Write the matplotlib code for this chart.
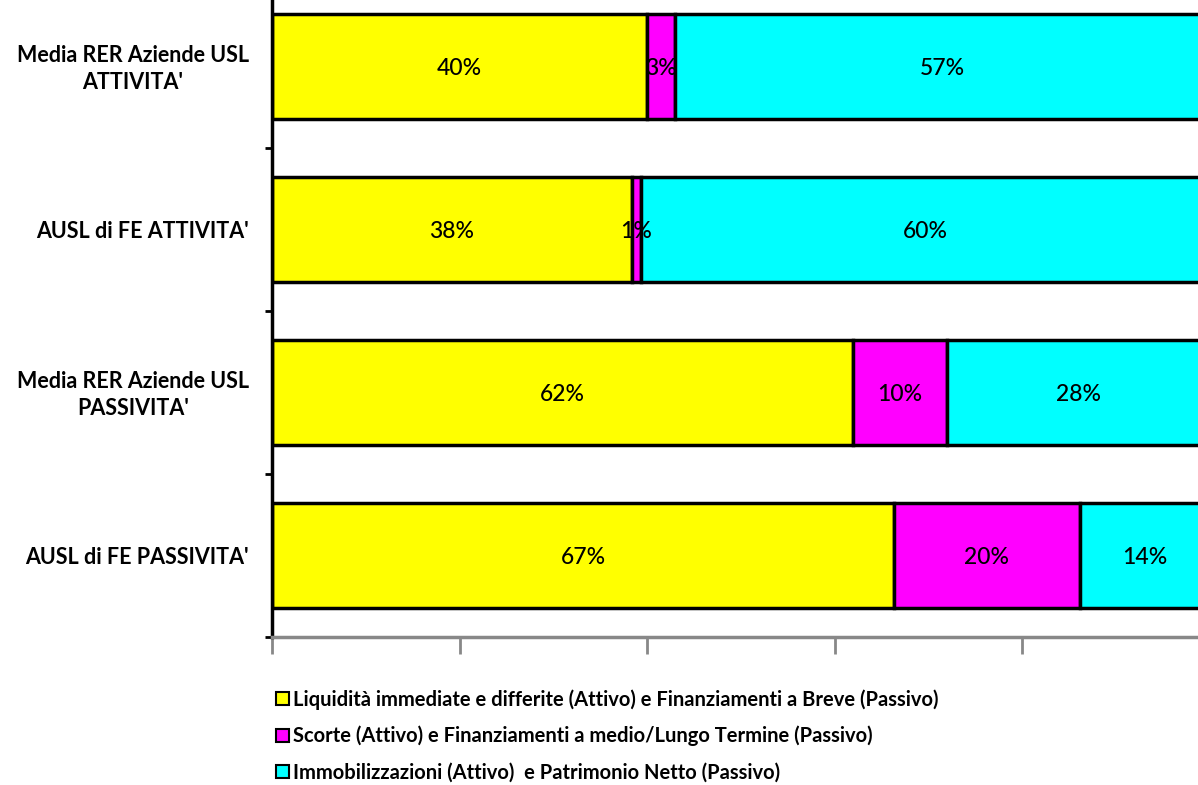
import numpy as np
import matplotlib.pyplot as plt
import matplotlib.transforms as mtransforms
from matplotlib.patches import Patch

# rows from top to bottom, values in percent as typed in the sheet
categories = ["Media RER Aziende USL\nATTIVITA'",
              "AUSL di FE ATTIVITA'",
              "Media RER Aziende USL\nPASSIVITA'",
              "AUSL di FE PASSIVITA'"]
liquidita = [40, 38, 62, 67]
scorte = [3, 1, 10, 20]
immobilizzazioni = [57, 60, 28, 14]

series_names = ["Liquidità immediate e differite (Attivo) e Finanziamenti a Breve (Passivo)",
                "Scorte (Attivo) e Finanziamenti a medio/Lungo Termine (Passivo)",
                "Immobilizzazioni (Attivo)  e Patrimonio Netto (Passivo)"]
colors = ["#FFFF00", "#FF00FF", "#00FFFF"]

plt.rcParams['font.family'] = ['Lato', 'DejaVu Sans']

fig = plt.figure(figsize=(11.98, 7.85), dpi=100)
ax = fig.add_axes([272/1198, 1 - 637/785, 937.5/1198, 652/785])

data = np.array([liquidita, scorte, immobilizzazioni], dtype=float)
totals = data.sum(axis=0)
y = np.arange(len(categories))
left = np.zeros(len(categories))
for vals, col in zip(data, colors):
    frac = vals / totals
    ax.barh(y, frac, left=left, height=0.645, color=col,
            edgecolor='black', linewidth=2.5)
    for yi, l, f, v in zip(y, left, frac, vals):
        ax.text(l + f / 2, yi + 0.01, '%d%%' % v, ha='center', va='center',
                fontsize=16.5, fontweight='medium', color='black')
    left += frac

ax.set_xlim(0, 1)
ax.set_ylim(len(categories) - 0.5, -0.5)

# category names, right-aligned block in the left margin
trans = mtransforms.blended_transform_factory(ax.transAxes, ax.transData)
for yi, name in zip(y, categories):
    ax.text(-0.0245, yi + 0.015, name, transform=trans, ha='right', va='center',
            multialignment='center', fontsize=15.5, fontweight='bold',
            linespacing=1.35)

ax.set_yticks(np.arange(len(categories)) + 0.5)
ax.set_yticklabels([])
ax.tick_params(axis='y', length=5, width=2, color='black', direction='out')
ax.set_xticks(np.arange(0, 1.01, 0.2))
ax.set_xticklabels([])
ax.tick_params(axis='x', length=12, width=2, color='#888888', direction='out')

for s in ['top', 'right']:
    ax.spines[s].set_visible(False)
ax.spines['left'].set_linewidth(2.5)
ax.spines['left'].set_color('black')
ax.spines['bottom'].set_linewidth(2.5)
ax.spines['bottom'].set_color('#888888')

handles = [Patch(facecolor=c, edgecolor='black', linewidth=1.5) for c in colors]
fig.legend(handles, series_names, loc='upper left',
           bbox_to_anchor=(258/1198, 1 - 671/785), frameon=False,
           handlelength=0.65, handleheight=0.65, handletextpad=0.2,
           labelspacing=0.8, prop={'size': 14.5, 'weight': 'bold'})

fig.savefig('out.png', dpi=100)
